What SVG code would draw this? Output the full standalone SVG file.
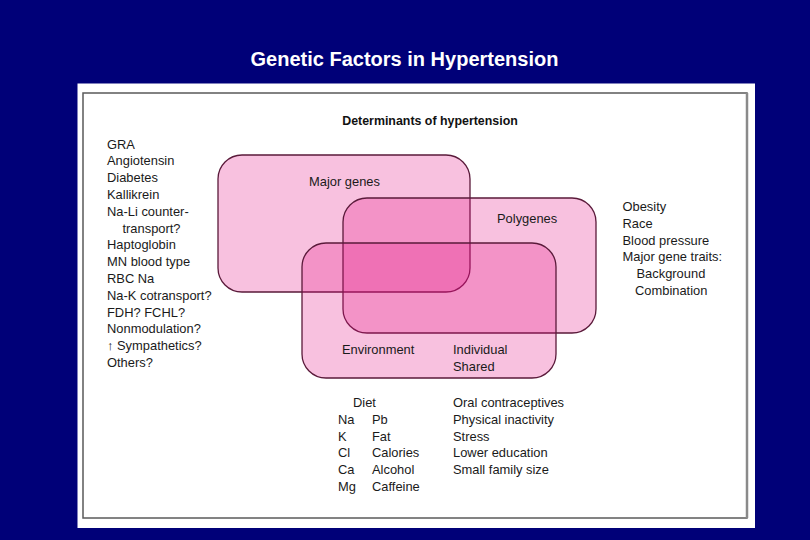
<svg xmlns="http://www.w3.org/2000/svg" width="810" height="540" viewBox="0 0 810 540">
  <style>
    .t { font-family: "Liberation Sans", Arial, sans-serif; font-size: 12.9px; fill: #1a1a1a; }
    .hd { font-family: "Liberation Sans", Arial, sans-serif; font-size: 12.4px; font-weight: bold; fill: #111; }
    .title { font-family: "Liberation Sans", Arial, sans-serif; font-size: 20px; font-weight: bold; fill: #ffffff; }
    .set { fill: #e30f83; fill-opacity: 0.26; stroke: #5a1a3a; stroke-width: 1.3; }
  </style>
  <rect x="0" y="0" width="810" height="540" fill="#000078"/>
  <text class="title" x="404.5" y="66" text-anchor="middle">Genetic Factors in Hypertension</text>
  <rect x="77.5" y="83.5" width="677.5" height="444.5" fill="#ffffff"/>
  <rect x="83" y="93" width="664" height="425" fill="#ffffff" stroke="#5a5a5a" stroke-width="1.5"/>
  <line x1="747" y1="93" x2="747" y2="518" stroke="#8a8a8a" stroke-width="2.5"/>

  <text class="hd" x="430" y="125" text-anchor="middle">Determinants of hypertension</text>

  <g id="sets">
    <g id="major-genes">
      <rect class="set" x="218" y="155" width="252" height="137" rx="24" ry="24"/>
      <text class="t" x="309" y="186">Major genes</text>
    </g>
    <g id="polygenes">
      <rect class="set" x="343" y="198" width="253" height="135" rx="24" ry="24"/>
      <text class="t" x="497" y="223">Polygenes</text>
    </g>
    <g id="environment">
      <rect class="set" x="302" y="243" width="254" height="135" rx="24" ry="24"/>
      <text class="t" x="342" y="354">Environment</text>
      <text class="t" x="453" y="354">Individual</text>
      <text class="t" x="453" y="371">Shared</text>
    </g>
  </g>

  <g id="connectors"></g>

  <g id="major-gene-list">
    <text class="t" x="107" y="148.5">GRA</text>
    <text class="t" x="107" y="165.3">Angiotensin</text>
    <text class="t" x="107" y="182.1">Diabetes</text>
    <text class="t" x="107" y="198.9">Kallikrein</text>
    <text class="t" x="107" y="215.7">Na-Li counter-</text>
    <text class="t" x="122.5" y="232.5">transport?</text>
    <text class="t" x="107" y="249.3">Haptoglobin</text>
    <text class="t" x="107" y="266.1">MN blood type</text>
    <text class="t" x="107" y="282.9">RBC Na</text>
    <text class="t" x="107" y="299.7">Na-K cotransport?</text>
    <text class="t" x="107" y="316.5">FDH? FCHL?</text>
    <text class="t" x="107" y="333.3">Nonmodulation?</text>
    <text class="t" x="107" y="350.1">↑ Sympathetics?</text>
    <text class="t" x="107" y="366.9">Others?</text>
  </g>

  <g id="polygene-list">
    <text class="t" x="622.5" y="211">Obesity</text>
    <text class="t" x="622.5" y="227.8">Race</text>
    <text class="t" x="622.5" y="244.6">Blood pressure</text>
    <text class="t" x="622.5" y="261.4">Major gene traits:</text>
    <text class="t" x="636.5" y="278.2">Background</text>
    <text class="t" x="635" y="295">Combination</text>
  </g>

  <g id="environment-list">
    <text class="t" x="353" y="407">Diet</text>
    <text class="t" x="338" y="423.8">Na</text>
    <text class="t" x="338" y="440.6">K</text>
    <text class="t" x="338" y="457.4">Cl</text>
    <text class="t" x="338" y="474.2">Ca</text>
    <text class="t" x="338" y="491">Mg</text>
    <text class="t" x="372" y="423.8">Pb</text>
    <text class="t" x="372" y="440.6">Fat</text>
    <text class="t" x="372" y="457.4">Calories</text>
    <text class="t" x="372" y="474.2">Alcohol</text>
    <text class="t" x="372" y="491">Caffeine</text>
    <text class="t" x="453" y="407">Oral contraceptives</text>
    <text class="t" x="453" y="423.8">Physical inactivity</text>
    <text class="t" x="453" y="440.6">Stress</text>
    <text class="t" x="453" y="457.4">Lower education</text>
    <text class="t" x="453" y="474.2">Small family size</text>
  </g>
</svg>
